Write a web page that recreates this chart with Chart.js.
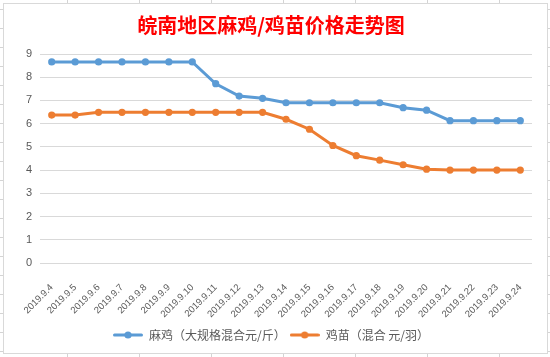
<!DOCTYPE html>
<html><head><meta charset="utf-8">
<script src="https://cdn.jsdelivr.net/npm/chart.js@4.4.1/dist/chart.umd.min.js"></script>
<style>
html,body{margin:0;padding:0;width:550px;height:357px;overflow:hidden;background:#fff;}
#sheet{position:absolute;left:0;top:0;width:550px;height:357px;
 background-image:linear-gradient(to right,#d4d4d4 1px,transparent 1px),linear-gradient(to bottom,#d4d4d4 1px,transparent 1px);
 background-size:72px 100%,100% 19px;background-position:67px 0,0 9px;}
#box{position:absolute;left:3px;top:3px;width:545px;height:351px;box-sizing:border-box;border:1px solid #d9d9d9;background:#fff;}
#c{position:absolute;left:0;top:0;}
</style></head><body>
<div id="sheet"></div><div id="box"></div>
<canvas id="c" width="550" height="357"></canvas>
<script>
const chartTitle = '皖南地区麻鸡/鸡苗价格走势图';
const categories = ['2019.9.4','2019.9.5','2019.9.6','2019.9.7','2019.9.8','2019.9.9','2019.9.10','2019.9.11','2019.9.12','2019.9.13','2019.9.14','2019.9.15','2019.9.16','2019.9.17','2019.9.18','2019.9.19','2019.9.20','2019.9.21','2019.9.22','2019.9.23','2019.9.24'];
const majiLabel = '麻鸡（大规格混合元/斤）';
const majiPrices = [8.66,8.66,8.66,8.66,8.66,8.66,8.66,7.72,7.19,7.09,6.9,6.9,6.9,6.9,6.9,6.69,6.58,6.13,6.13,6.13,6.13];
const jimiaoLabel = '鸡苗（混合 元/羽）';
const jimiaoPrices = [6.37,6.37,6.49,6.49,6.49,6.49,6.49,6.49,6.49,6.49,6.19,5.76,5.06,4.62,4.43,4.23,4.04,4.0,4.0,4.0,4.0];
const yTicks = [0,1,2,3,4,5,6,7,8,9];

const BLUE = '#5B9BD5', ORANGE = '#ED7D31';
function legendIcon(color){
  const c = document.createElement('canvas');
  c.width = 30; c.height = 10;
  const x = c.getContext('2d');
  x.strokeStyle = color; x.lineWidth = 3; x.lineCap = 'round';
  x.beginPath(); x.moveTo(1.5,5); x.lineTo(28.5,5); x.stroke();
  x.fillStyle = color; x.beginPath(); x.arc(15,5,3.6,0,Math.PI*2); x.fill();
  return c;
}
const icons = [legendIcon(BLUE), legendIcon(ORANGE)];
const cjk = '"Noto Sans CJK SC", "Noto Sans", sans-serif';

new Chart(document.getElementById('c'), {
  type: 'line',
  data: {
    labels: categories,
    datasets: [
      {label: majiLabel, data: majiPrices, borderColor: BLUE, backgroundColor: BLUE, borderWidth: 3, pointRadius: 3.6, pointBorderWidth: 0, pointBackgroundColor: BLUE, tension: 0},
      {label: jimiaoLabel, data: jimiaoPrices, borderColor: ORANGE, backgroundColor: ORANGE, borderWidth: 3, pointRadius: 3.6, pointBorderWidth: 0, pointBackgroundColor: ORANGE, tension: 0}
    ]
  },
  options: {
    responsive: false, animation: false,
    layout: {padding: {left: 10, right: 18, top: 5, bottom: 6}},
    plugins: {
      tooltip: {enabled: false},
      title: {display: true, text: chartTitle, color: '#FF0000', font: {family: cjk, size: 20, weight: 'bold'}, padding: {top: 8, bottom: 17}},
      legend: {position: 'bottom', labels: {usePointStyle: true, pointStyleWidth: 30, boxHeight: 12, padding: 4, color: '#595959', font: {family: cjk, size: 12},
        generateLabels(chart){
          const items = Chart.defaults.plugins.legend.labels.generateLabels(chart);
          items.forEach((it,i)=>{ it.pointStyle = icons[i]; it.fontColor = '#595959'; });
          return items;
        }}}
    },
    scales: {
      x: {offset: true, grid: {display: false}, border: {display: false},
        ticks: {minRotation: 45, maxRotation: 45, autoSkip: false, color: '#595959', font: {family: '"Liberation Sans", sans-serif', size: 9.5}, padding: 11},
        afterFit(s){ s.height = 62; }},
      y: {min: 0, max: 9, afterBuildTicks(s){ s.ticks = yTicks.map(v=>({value:v})); },
        grid: {color: '#d9d9d9', drawTicks: false, lineWidth: 1}, border: {display: false},
        ticks: {color: '#595959', font: {family: '"Liberation Sans", sans-serif', size: 11}, padding: 8},
        afterFit(s){ s.width = 30; }}
    }
  }
});
</script>
</body></html>
